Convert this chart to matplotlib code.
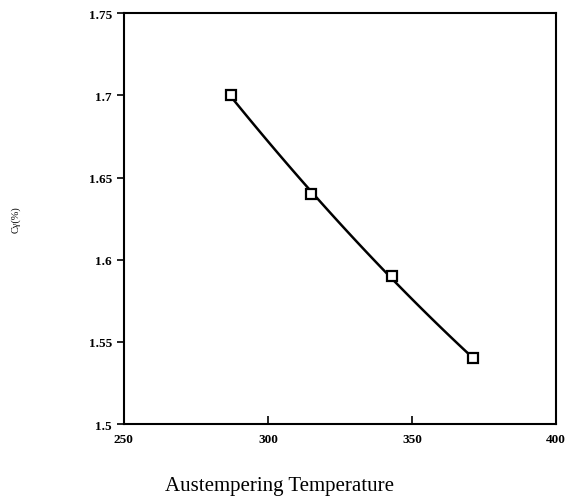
import numpy as np
import matplotlib
matplotlib.use("Agg")
import matplotlib.pyplot as plt

# Data
temperature = [287, 315, 343, 371]
carbon = [1.70, 1.64, 1.59, 1.54]
x_ticks = [250, 300, 350, 400]
y_ticks = [1.5, 1.55, 1.6, 1.65, 1.7, 1.75]
y_tick_labels = ["1.5", "1.55", "1.6", "1.65", "1.7", "1.75"]

plt.rcParams['font.family'] = ['Liberation Serif', 'DejaVu Serif']

fig = plt.figure(figsize=(5.71, 5.02), dpi=100)
ax = fig.add_axes([0.217, 0.153, 0.757, 0.819])

# smooth curve through the measured points
coef = np.polyfit(temperature, carbon, 2)
xs = np.linspace(temperature[0], temperature[-1], 100)
ax.plot(xs, np.polyval(coef, xs), color='black', lw=1.8)
ax.plot(temperature, carbon, linestyle='none', marker='s', markersize=7,
        markerfacecolor='white', markeredgecolor='black', markeredgewidth=1.6)

ax.set_xlim(250, 400)
ax.set_ylim(1.5, 1.75)
ax.set_xticks(x_ticks)
ax.set_yticks(y_ticks)
ax.set_yticklabels(y_tick_labels)
ax.tick_params(axis='x', direction='in', length=6, width=1.2, labelsize=9.5, pad=6)
ax.tick_params(axis='y', direction='out', length=5, width=1.2, labelsize=9.5)
for lbl in ax.get_xticklabels() + ax.get_yticklabels():
    lbl.set_fontweight('bold')
for s in ax.spines.values():
    s.set_linewidth(1.5)

ax.set_xlabel("Austempering Temperature", fontsize=15)
ax.xaxis.set_label_coords(0.361, -0.125)
ax.set_ylabel("Cγ(%)", fontsize=7.5)
ax.yaxis.set_label_coords(-0.24, 0.5)

fig.savefig("out.png", dpi=100)
